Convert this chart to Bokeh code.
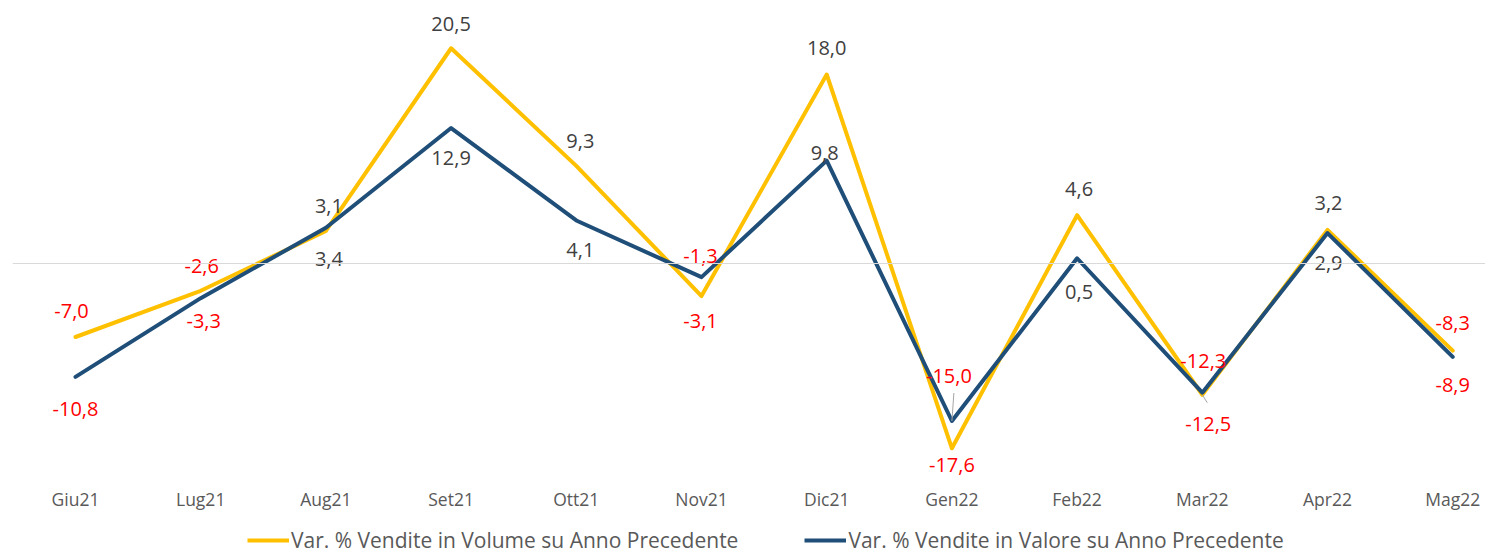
from bokeh.plotting import figure
from bokeh.layouts import column
from bokeh.models import (ColumnDataSource, Range1d, FixedTicker, Span, Legend, LegendItem)
from bokeh.core.properties import value
from bokeh.embed import file_html
from bokeh.resources import INLINE

months = ["Giu21", "Lug21", "Aug21", "Set21", "Ott21", "Nov21",
          "Dic21", "Gen22", "Feb22", "Mar22", "Apr22", "Mag22"]
volume = [-7.0, -2.6, 3.1, 20.5, 9.3, -3.1, 18.0, -17.6, 4.6, -12.5, 3.2, -8.3]
valore = [-10.8, -3.3, 3.4, 12.9, 4.1, -1.3, 9.8, -15.0, 0.5, -12.3, 2.9, -8.9]
name_volume = "Var. % Vendite in Volume su Anno Precedente"
name_valore = "Var. % Vendite in Valore su Anno Precedente"

# label placement (screen pixels, positive = down)
vol_dy = [-26, -25, -25, -24, -25, 25, -27, 17, -26, 29, -27, -28]
vol_dx = [-4, 1, 3, 0, 4, -1, 0, 0, 2, 6, 1, 0]
val_dy = [32, 23, 31, 30, 30, -21, -8, -45, 34, -32, 30, 28]
val_dx = [0, 3, 3, 0, 4, -1, -2, -3, 2, 1, 1, 0]

YELLOW = "#FFC000"
BLUE = "#1F4E79"
FONT = "Open Sans"

x = list(range(len(months)))
PX_PER_UNIT = 10.5
PX_PER_CAT = 125.2
y_top = 255 / PX_PER_UNIT
y_bot = -217 / PX_PER_UNIT

p = figure(width=1485, height=520, output_backend="svg", toolbar_location=None,
           x_range=Range1d(-63 / PX_PER_CAT, 1410 / PX_PER_CAT), y_range=Range1d(y_bot, y_top),
           min_border_left=12, min_border_right=0, min_border_top=8, min_border_bottom=40,
           y_axis_location=None)
p.outline_line_color = None
p.xgrid.visible = False
p.ygrid.visible = False
p.background_fill_color = "white"

p.add_layout(Span(location=0, dimension="width", line_color="#D9D9D9", line_width=1))

def fmt(v):
    return ("%.1f" % v).replace(".", ",")

p.line(x, volume, line_color=YELLOW, line_width=4, line_join="round", line_cap="round")
p.line(x, valore, line_color=BLUE, line_width=4, line_join="round", line_cap="round")

# leader lines for crowded labels (Gen22 blue, Mar22 yellow)
lx0 = [x[7] + 2 / PX_PER_CAT, x[9]]
ly0 = [valore[7] + 28 / PX_PER_UNIT, volume[9]]
lx1 = [x[7], x[9] + 5 / PX_PER_CAT]
ly1 = [valore[7], volume[9] - 8 / PX_PER_UNIT]
p.segment(lx0, ly0, lx1, ly1, line_color="#A6A6A6", line_width=1)

def labels(vals, dx, dy):
    src = ColumnDataSource(dict(
        x=x, y=vals, t=[fmt(v) for v in vals], dx=dx, dy=dy,
        c=["#FF0000" if v < 0 else "#404040" for v in vals]))
    p.text("x", "y", text="t", source=src, x_offset="dx", y_offset="dy",
           text_color="c", text_align="center", text_baseline="middle",
           text_font=value(FONT), text_font_size="20px")

labels(volume, vol_dx, vol_dy)
labels(valore, val_dx, val_dy)

ax = p.xaxis[0]
ax.ticker = FixedTicker(ticks=x)
ax.major_label_overrides = {i: m for i, m in zip(x, months)}
ax.axis_line_color = None
ax.major_tick_line_color = None
ax.minor_tick_line_color = None
ax.major_label_standoff = 0
ax.major_label_text_font = FONT
ax.major_label_text_font_size = "17.5px"
ax.major_label_text_color = "#595959"

# legend strip
lg = figure(width=1485, height=34, output_backend="svg", toolbar_location=None,
            x_range=Range1d(0, 1), y_range=Range1d(0, 1),
            min_border_left=0, min_border_right=0, min_border_top=0, min_border_bottom=0,
            x_axis_location=None, y_axis_location=None)
lg.outline_line_color = None
lg.xgrid.visible = False
lg.ygrid.visible = False
k1 = lg.line([-5, -4], [-5, -4], line_color=YELLOW, line_width=4)
k2 = lg.line([-5, -4], [-5, -4], line_color=BLUE, line_width=4)
legend = Legend(items=[LegendItem(label=name_volume, renderers=[k1]),
                       LegendItem(label=name_valore, renderers=[k2])],
                orientation="horizontal", location=(235, 0),
                glyph_width=42, label_standoff=2, spacing=66, padding=0, margin=0,
                label_text_font=FONT, label_text_font_size="21px",
                label_text_color="#595959", border_line_color=None,
                background_fill_alpha=0)
lg.add_layout(legend, "center")

open("out.html", "w").write(file_html(column(p, lg, spacing=0), INLINE))
